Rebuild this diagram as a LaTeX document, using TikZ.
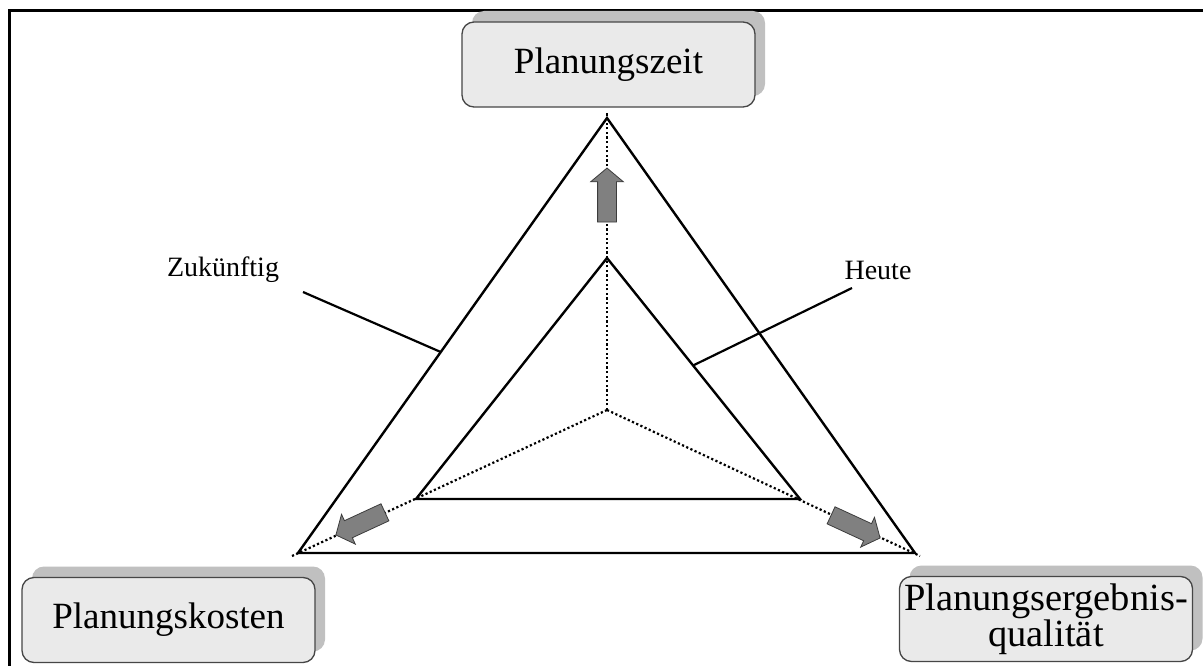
\documentclass[tikz,border=0pt]{standalone}
\usepackage{fontspec}
\setmainfont{Liberation Serif}
\usetikzlibrary{shapes.arrows,shadows,calc}
\definecolor{boxfill}{RGB}{234,234,234}
\definecolor{boxshade}{RGB}{192,192,192}
\definecolor{boxline}{RGB}{70,70,70}
\definecolor{arrowfill}{RGB}{128,128,128}
\definecolor{arrowline}{RGB}{60,60,60}
\begin{document}
\begin{tikzpicture}[x=1pt,y=-1pt,
  edge/.style={line width=2.4pt,black,line join=miter},
  axis/.style={line width=2.2pt,black,dash pattern=on 2.2pt off 2.4pt},
  leader/.style={line width=2.2pt,black},
  label/.style={font=\fontsize{28}{30}\selectfont},
  cornerbox/.style={draw=boxline,line width=1.3pt,fill=boxfill,rounded corners=12pt,
    minimum width=293pt,minimum height=85pt,inner sep=0pt,align=center,
    font=\fontsize{37}{36}\selectfont,
    drop shadow={shadow xshift=10pt,shadow yshift=11pt,fill=boxshade,opacity=1,rounded corners=12pt}},
  growarrow/.style={single arrow,draw=arrowline,line width=0.8pt,fill=arrowfill,
    minimum width=32pt,single arrow head extend=7pt,single arrow tip angle=100,
    minimum height=54pt,inner xsep=0pt,inner ysep=9pt,
    shape border uses incircle=false}]
\useasboundingbox (0,0) rectangle (1203,666);
\fill[white] (0,0) rectangle (1203,666);

% frame
\draw[line width=3pt] (9,666) -- (9,10.5) -- (1203,10.5);

% centre and corners
\coordinate (c) at (607,410);
\coordinate (oT) at (607,118);
\coordinate (oL) at (298,553);
\coordinate (oR) at (915,553);
\coordinate (iT) at (607,258);
\coordinate (iL) at (416,499);
\coordinate (iR) at (800,499);
\coordinate (aT) at (607,112);
\coordinate (aL) at (292,556);
\coordinate (aR) at (920,556);

% axes
\draw[axis] (c) -- (aT);
\draw[axis] (c) -- (aL);
\draw[axis] (c) -- (aR);

% triangles
\draw[edge] (oT) -- (oL) -- (oR) -- cycle;
\draw[edge] (iT) -- (iL) -- (iR) -- cycle;

% growth arrows
\node[growarrow,rotate=90] (upArrow) at (607,199) {};
\node[growarrow,rotate=204.8] (leftArrow) at (364,522) {};
\node[growarrow,rotate=335.2] (rightArrow) at (852,525) {};

% labels with leaders
\node[label] (zuk) at (223,270) {Zukünftig};
\node[label] (heu) at (878,270) {Heute};
\coordinate (zukA) at (303,292);
\coordinate (zukB) at ($(oT)!0.538!(oL)$);
\coordinate (heuA) at (852,288);
\coordinate (heuB) at ($(iT)!0.446!(iR)$);
\draw[leader] (zukA) -- (zukB);
\draw[leader] (heuA) -- (heuB);

% corner boxes
\node[cornerbox] (zeit) at (608.5,64.5) {Planungszeit};
\node[cornerbox] (kosten) at (168.5,620) {Planungskosten};
\node[cornerbox,font=\fontsize{38.5}{35}\selectfont] (qual) at (1046,619) {Planungsergebnis-\\qualität};
\end{tikzpicture}
\end{document}
